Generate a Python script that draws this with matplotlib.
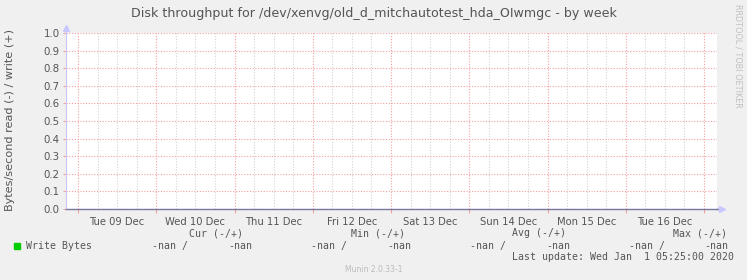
import numpy as np
import matplotlib
matplotlib.use("Agg")
import matplotlib.pyplot as plt
from matplotlib.patches import Rectangle
from matplotlib.ticker import MultipleLocator, NullFormatter

# Munin "by week" disk throughput graph, all values unknown (nan)

W, H = 747, 280
BG = "#f0f0f0"
TXT = "#555555"

title = "Disk throughput for /dev/xenvg/old_d_mitchautotest_hda_OIwmgc - by week"
ylabel = "Bytes/second read (-) / write (+)"

# x in days, 0 = Tue 09 Dec 00:00
day_labels = ["Tue 09 Dec", "Wed 10 Dec", "Thu 11 Dec", "Fri 12 Dec",
              "Sat 13 Dec", "Sun 14 Dec", "Mon 15 Dec", "Tue 16 Dec"]
x_start, x_end = -0.154, 8.166
yticks = [0.0, 0.1, 0.2, 0.3, 0.4, 0.5, 0.6, 0.7, 0.8, 0.9, 1.0]

# write series: nothing recorded
t = np.array([-0.15, 2.0, 4.0, 6.0, 8.15])
write_bytes = np.array([np.nan, np.nan, np.nan, np.nan, np.nan])

series_name = "Write Bytes"
cur = [np.nan, np.nan]
mn = [np.nan, np.nan]
avg = [np.nan, np.nan]
mx = [np.nan, np.nan]
last_update = "Last update: Wed Jan  1 05:25:00 2020"
version = "Munin 2.0.33-1"


def fx(px):
    return px / W


def fy(py):
    return 1 - py / H


def fmt(v):
    return "-nan" if np.isnan(v) else "%.2f" % v


fig = plt.figure(figsize=(W / 100, H / 100), dpi=100, facecolor=BG)
ax = fig.add_axes([fx(66), fy(209), fx(717) - fx(66), fy(33) - fy(209)])
ax.set_facecolor("white")

ax.plot(t, write_bytes, color="#00cc00", lw=1)

ax.set_xlim(x_start, x_end)
ax.set_ylim(0, 1.0)
ax.set_yticks(yticks)
ax.set_yticklabels(["%.1f" % v for v in yticks])

ax.xaxis.set_major_locator(MultipleLocator(1.0))
ax.xaxis.set_minor_locator(MultipleLocator(0.25))
ax.xaxis.set_major_formatter(NullFormatter())

ax.grid(which="minor", axis="x", color="#d4d4d4", ls=(0, (1, 1.5)), lw=0.8)
ax.grid(which="major", axis="x", color="#f2a0a0", ls=(0, (1, 1.5)), lw=0.8)
ax.grid(which="major", axis="y", color="#f2a0a0", ls=(0, (1, 1.5)), lw=0.8)
ax.set_axisbelow(True)

ax.tick_params(axis="x", which="major", length=3, color="#f2a0a0", width=0.8)
ax.tick_params(axis="x", which="minor", length=0)
ax.tick_params(axis="y", which="major", length=2.5, color="#f2a0a0", width=0.8,
               labelsize=7.4, labelcolor=TXT, pad=2)

for s in ["top", "right"]:
    ax.spines[s].set_visible(False)
ax.spines["left"].set_color("#c8c8ff")
ax.spines["left"].set_linewidth(0.8)
ax.spines["bottom"].set_color("#7878a0")
ax.spines["bottom"].set_linewidth(1.0)

# axis arrows like rrdtool
ax.plot([0, 0], [1.0, 1.03], transform=ax.transAxes, color="#c8c8ff", lw=0.8, clip_on=False)
ax.plot([0], [1.03], marker="^", ms=4, color="#c8c8ff", transform=ax.transAxes, clip_on=False)
ax.plot([1.0, 1.008], [0, 0], transform=ax.transAxes, color="#7878a0", lw=1.0, clip_on=False)
ax.plot([1.008], [0], marker=">", ms=4, color="#c8c8ff", transform=ax.transAxes, clip_on=False)

# day labels centred at noon
trans = ax.get_xaxis_transform()
for i, lab in enumerate(day_labels):
    ax.text(i + 0.5, -0.045, lab, transform=trans, ha="center", va="top",
            fontsize=7.2, color=TXT)

fig.text(0.5, fy(14), title, ha="center", va="center", fontsize=9.1, color=TXT)
fig.text(fx(10), fy(120), ylabel, ha="center", va="center", rotation=90,
         fontsize=8.1, color=TXT)
fig.text(fx(738), fy(56), "RRDTOOL / TOBI OETIKER", ha="center", va="center",
         rotation=270, fontsize=5.9, color="#c0c0c0")

mono = dict(family="DejaVu Sans Mono", fontsize=7.1, color=TXT, va="center", ha="left")
heads = ["Cur (-/+)", "Min (-/+)", "Avg (-/+)", "Max (-/+)"]
head_x = [189, 351, 512, 673]
for h, px in zip(heads, head_x):
    fig.text(fx(px), fy(233.5), h, **mono)

fig.patches.append(Rectangle((fx(14), fy(249)), fx(6), fy(243) - fy(249),
                             transform=fig.transFigure, color="#00cc00"))
fig.text(fx(26), fy(246), series_name, **mono)
val_x = [(152, 228), (311, 387), (470, 546), (629, 704)]
for vals, (x1, x2) in zip([cur, mn, avg, mx], val_x):
    fig.text(fx(x1), fy(246), fmt(vals[0]) + " /", **mono)
    fig.text(fx(x2), fy(246), fmt(vals[1]), **mono)
fig.text(fx(512), fy(257.3), last_update, **mono)

fig.text(0.5, fy(269), version, ha="center", va="center", fontsize=5.5, color="#bbbbbb")

fig.savefig("out.png", dpi=100, facecolor=BG)
